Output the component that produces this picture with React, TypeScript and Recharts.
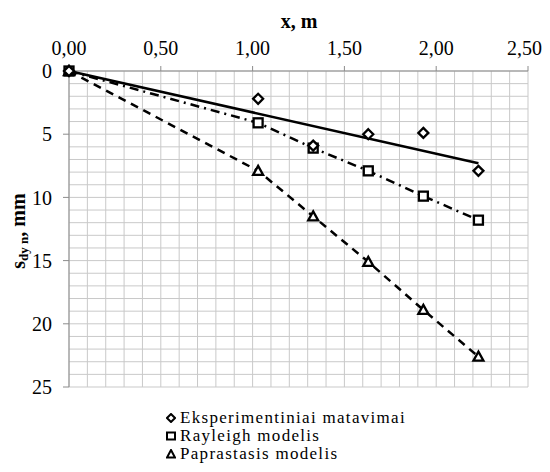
import { ScatterChart, Scatter, XAxis, YAxis, CartesianGrid, Label } from "recharts";

// measured points (x, m / s_dyn, mm)
const xPoints = [0, 1.03, 1.33, 1.63, 1.93, 2.23];
const experimental = [0, 2.2, 5.9, 5.0, 4.9, 7.9];
const rayleigh = [0, 4.1, 6.1, 7.9, 9.9, 11.8];
const paprastasis = [0, 7.9, 11.5, 15.1, 18.9, 22.6];

// linear trend of the experimental points
const trendX = [0, 2.23];
const trendY = [0, 7.3];

const xTicks = [0, 0.5, 1, 1.5, 2, 2.5];
const yTicks = [0, 5, 10, 15, 20, 25];
const gridX = [0, 0.1, 0.2, 0.3, 0.4, 0.5, 0.6, 0.7, 0.8, 0.9, 1, 1.1, 1.2, 1.3, 1.4, 1.5, 1.6, 1.7, 1.8, 1.9, 2, 2.1, 2.2, 2.3, 2.4, 2.5];
const gridY = [0, 1, 2, 3, 4, 5, 6, 7, 8, 9, 10, 11, 12, 13, 14, 15, 16, 17, 18, 19, 20, 21, 22, 23, 24, 25];

const seriesNames = ["Eksperimentiniai matavimai", "Rayleigh modelis", "Paprastasis modelis"];

const FONT = "Liberation Serif, Times New Roman, serif";

const toPoints = (xs: number[], ys: number[]) => xs.map((x, i) => ({ x, y: ys[i] }));

const Diamond = ({ cx, cy }: any) => (
  <path d={`M${cx},${cy - 5} L${cx + 5},${cy} L${cx},${cy + 5} L${cx - 5},${cy} Z`} fill="#fff" stroke="#000" strokeWidth={2.3} />
);
const Square = ({ cx, cy }: any) => (
  <rect x={cx - 4.5} y={cy - 4.5} width={9} height={9} fill="#fff" stroke="#000" strokeWidth={2.3} />
);
const Triangle = ({ cx, cy }: any) => (
  <path d={`M${cx},${cy - 5} L${cx + 5},${cy + 4} L${cx - 5},${cy + 4} Z`} fill="#fff" stroke="#000" strokeWidth={2.3} />
);
const NoShape = () => <g />;

const YTitle = ({ viewBox }: any) => {
  const cx = 10;
  const cy = viewBox.y + viewBox.height / 2 + 2;
  return (
    <text
      x={cx}
      y={cy}
      transform={`rotate(-90, ${cx}, ${cy})`}
      textAnchor="middle"
      dominantBaseline="central"
      fontFamily={FONT}
      fontWeight="bold"
      fontSize={20}
      fill="#000"
    >
      <tspan>s</tspan>
      <tspan fontSize={13} dy={5}>dy n</tspan>
      <tspan dy={-5}>, mm</tspan>
    </text>
  );
};

const legendIcons = [
  <path key="d" d="M5,1 L9,5 L5,9 L1,5 Z" fill="#fff" stroke="#000" strokeWidth={2} />,
  <rect key="s" x={1} y={1.5} width={8} height={7} fill="#fff" stroke="#000" strokeWidth={2} />,
  <path key="t" d="M5,1 L9,8.5 L1,8.5 Z" fill="#fff" stroke="#000" strokeWidth={2} />,
];

export default function App() {
  const fmt = (v: number) => v.toFixed(2).replace(".", ",");
  return (
    <div style={{ position: "relative", width: 534, height: 456, fontFamily: FONT }}>
      <ScatterChart width={534} height={390} margin={{ top: 33, right: 14, bottom: 11, left: 21 }}>
        <CartesianGrid
          stroke="#c9c9c9"
          strokeWidth={1}
          verticalCoordinatesGenerator={({ offset }: any) => gridX.map((v) => offset.left + (v / 2.5) * offset.width)}
          horizontalCoordinatesGenerator={({ offset }: any) => gridY.map((v) => offset.top + (v / 25) * offset.height)}
        />
        <XAxis
          type="number"
          dataKey="x"
          orientation="top"
          domain={[0, 2.5]}
          ticks={xTicks}
          tickFormatter={fmt}
          height={30}
          tickSize={5}
          tickMargin={11}
          stroke="#8c8c8c"
          tick={{ fill: "#000", fontSize: 20, fontFamily: FONT }}
        >
          <Label content={() => (
            <text x={291} y={13} textAnchor="middle" dominantBaseline="central" fontFamily={FONT} fontWeight="bold" fontSize={20} fill="#000">x, m</text>
          )} />
        </XAxis>
        <YAxis
          type="number"
          dataKey="y"
          domain={[0, 25]}
          ticks={yTicks}
          reversed
          width={40}
          tickSize={6}
          tickMargin={11}
          stroke="#8c8c8c"
          tick={{ fill: "#000", fontSize: 20, fontFamily: FONT }}
        >
          <Label content={<YTitle />} />
        </YAxis>
        <Scatter
          data={toPoints(trendX, trendY)}
          shape={NoShape}
          line={{ stroke: "#000", strokeWidth: 2.5 }}
          lineJointType="linear"
          isAnimationActive={false}
        />
        <Scatter
          data={toPoints(xPoints, rayleigh)}
          shape={Square}
          line={{ stroke: "#000", strokeWidth: 2.5, strokeDasharray: "9 5 2 5" }}
          lineJointType="linear"
          isAnimationActive={false}
        />
        <Scatter
          data={toPoints(xPoints, paprastasis)}
          shape={Triangle}
          line={{ stroke: "#000", strokeWidth: 2.5, strokeDasharray: "8 6" }}
          lineJointType="linear"
          isAnimationActive={false}
        />
        <Scatter data={toPoints(xPoints, experimental)} shape={Diamond} isAnimationActive={false} />
      </ScatterChart>
      <div style={{ position: "absolute", left: 158, top: 401, fontSize: 17, letterSpacing: 1.3, lineHeight: "18px", color: "#000" }}>
        {seriesNames.map((name, i) => (
          <div key={name} style={{ display: "flex", alignItems: "center", height: 18 }}>
            <svg width={10} height={10} style={{ marginRight: 4 }}>{legendIcons[i]}</svg>
            <span>{name}</span>
          </div>
        ))}
      </div>
    </div>
  );
}
